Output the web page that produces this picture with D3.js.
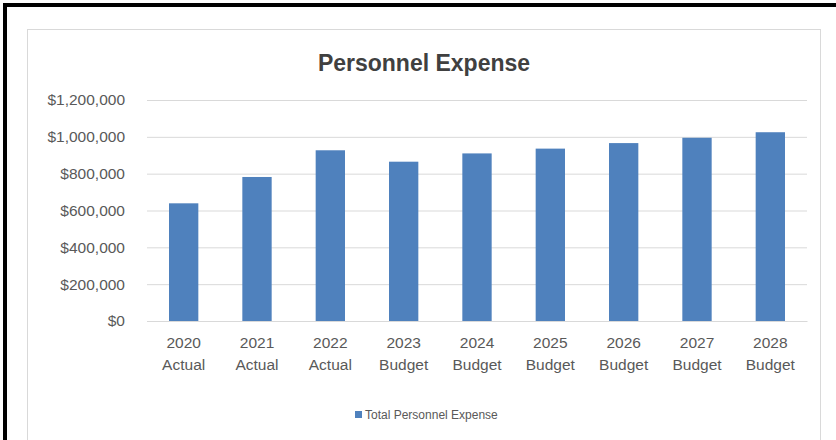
<!DOCTYPE html>
<html><head><meta charset="utf-8">
<script src="https://cdn.jsdelivr.net/npm/d3@7"></script>
<style>body{margin:0;background:#fff}svg{display:block}text{font-family:"Liberation Sans",Arial,sans-serif}</style>
</head><body>
<svg id="c" width="836" height="440"></svg>
<script>
const years = ["2020","2021","2022","2023","2024","2025","2026","2027","2028"];
const kinds = ["Actual","Actual","Actual","Budget","Budget","Budget","Budget","Budget","Budget"];
const values = [639000,782000,927000,865000,910000,936000,966000,995000,1025000];
const yTicks = [0,200000,400000,600000,800000,1000000,1200000];
const seriesName = "Total Personnel Expense";
const title = "Personnel Expense";

const svg = d3.select("#c");
// outer black frame edges
svg.append("rect").attr("x",3).attr("y",3).attr("width",840).attr("height",4).attr("fill","#000");
svg.append("rect").attr("x",3).attr("y",3).attr("width",4).attr("height",440).attr("fill","#000");
// chart area border
svg.append("rect").attr("x",27.5).attr("y",29.5).attr("width",793).attr("height",430)
  .attr("fill","#fff").attr("stroke","#d9d9d9").attr("stroke-width",1);

const x = d3.scaleBand().domain(years).range([147,807]).paddingInner(0.6).paddingOuter(0.3);
const y = d3.scaleLinear().domain([0,1200000]).range([321,100]);

svg.append("text").attr("x",424).attr("y",71).attr("text-anchor","middle")
  .attr("font-size",23).attr("font-weight","bold").attr("fill","#404040").text(title);

const fmt = d => "$" + d3.format(",")(d);
const ya = svg.append("g").attr("transform","translate(147,0)")
  .call(d3.axisLeft(y).tickValues(yTicks).tickFormat(fmt).tickSize(-660).tickPadding(22));
ya.select(".domain").remove();
ya.selectAll("line").attr("stroke","#d9d9d9").attr("stroke-width",1);
ya.selectAll("text").attr("font-size",15.5).attr("fill","#595959").attr("font-family","Liberation Sans, Arial, sans-serif");

svg.append("g").selectAll("rect").data(values).join("rect")
  .attr("x",(d,i)=>x(years[i])).attr("width",x.bandwidth())
  .attr("y",d=>y(d)).attr("height",d=>y(0)-y(d)).attr("fill","#4f81bd");

const xa = svg.append("g").attr("transform","translate(0,321)")
  .call(d3.axisBottom(x).tickSize(0).tickFormat(()=>""));
xa.select(".domain").attr("stroke","#d9d9d9");
xa.selectAll(".tick").each(function(d,i){
  const t = d3.select(this).append("text").attr("fill","#595959").attr("font-size",15.5)
    .attr("text-anchor","middle");
  t.append("tspan").attr("x",0).attr("y",27).text(d);
  t.append("tspan").attr("x",0).attr("y",49).text(kinds[i]);
});

const lg = svg.append("g");
lg.append("rect").attr("x",355).attr("y",411).attr("width",7).attr("height",7).attr("fill","#4f81bd");
lg.append("text").attr("x",365).attr("y",419).attr("font-size",12).attr("fill","#595959").text(seriesName);
</script>
</body></html>
